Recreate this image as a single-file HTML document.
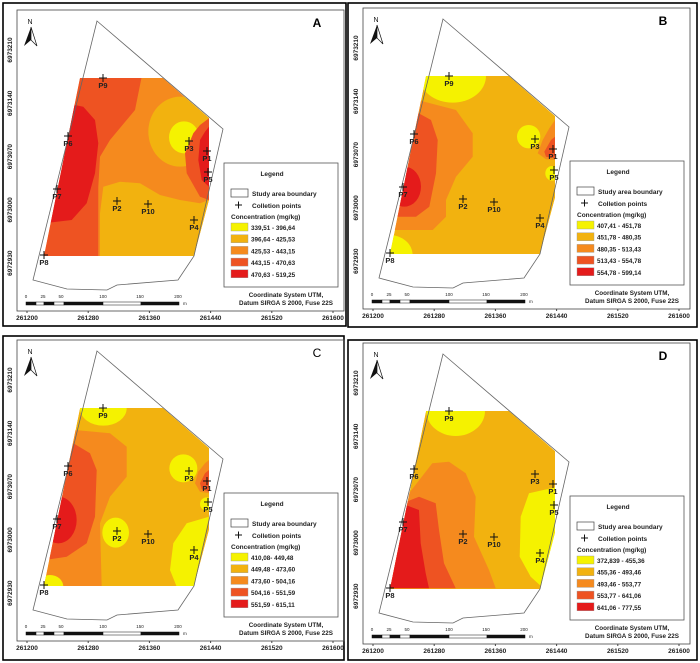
<!DOCTYPE html>
<html><head><meta charset="utf-8">
<style>
html,body{margin:0;padding:0;background:#fff;}
svg{display:block;font-family:"Liberation Sans",Arial,sans-serif;}
</style></head>
<body>
<svg id="fig" width="700" height="663" viewBox="0 0 700 663" xmlns="http://www.w3.org/2000/svg">
<defs>
<clipPath id="regclip"><polygon points="80,78 163,78 209,118 209,200 194,256 44,256"/></clipPath>
</defs>
</svg>
<script>
const NS="http://www.w3.org/2000/svg";
const svg=document.getElementById('fig');
function mk(tag,attrs,parent,text){const e=document.createElementNS(NS,tag);for(const k in attrs)e.setAttribute(k,attrs[k]);if(text!==undefined)e.textContent=text;(parent||svg).appendChild(e);return e;}

const colors=["#F5F200","#F2B20F","#F58A1E","#EE5322","#E41B1B"];
const panelLetters=["A","B","C","D"];
const legendA=["339,51 - 396,64","396,64 - 425,53","425,53 - 443,15","443,15 - 470,63","470,63 - 519,25"];
const legendB=["407,41 - 451,78","451,78 - 480,35","480,35 - 513,43","513,43 - 554,78","554,78 - 599,14"];
const legendC=["410,08- 449,48","449,48 - 473,60","473,60 - 504,16","504,16 - 551,59","551,59 - 615,11"];
const legendD=["372,839 - 455,36","455,36 - 493,46","493,46 - 553,77","553,77 - 641,06","641,06 - 777,55"];
const xTicks=["261200","261280","261360","261440","261520","261600"];
const yTicks=["6973210","6973140","6973070","6973000","6972930"];
const scaleLabels=["0","25","50","100","150","200"];
const pointNames=["P9","P6","P7","P8","P2","P10","P3","P1","P5","P4"];
const pointX=[103,68,57,44,117,148,189,207,208,194];
const pointY=[78,136,189,255,201,204,141,151,172,220];

const borders=[[3,3,343,323],[348,3,349,324],[3,336,341,324],[348,340,349,320]];

function z(pts,dx,dy){return pts.map(p=>(p[0]/3+dx).toFixed(1)+","+(p[1]/3+dy).toFixed(1));}
function poly(pts,dx,dy){return "M"+z(pts,dx,dy).join(" L")+"Z";}
function ell(cx,cy,rx,ry,dx,dy){cx=cx/3+dx;cy=cy/3+dy;rx/=3;ry/=3;return `M${cx-rx},${cy} a${rx},${ry} 0 1,0 ${2*rx},0 a${rx},${ry} 0 1,0 ${-2*rx},0Z`;}
const shapes=[
 [ [2,null],
   [3,poly([[230,230],[425,230],[405,330],[330,420],[300,470],[295,560],[295,770],[120,770],[200,235]],0,0)],
   [4,poly([[200,310],[250,320],[285,360],[295,430],[285,520],[260,610],[215,660],[130,670],[180,300]],0,0)],
   [1,poly([[310,560],[360,545],[420,550],[480,585],[540,600],[600,610],[627,600],[583,770],[300,770],[300,640]],0,0)],
   [1,ell(540,395,95,105,0,0)],
   [0,ell(552,412,45,48,0,0)],
   [3,poly([[580,400],[600,375],[627,355],[627,600],[600,590],[560,520],[555,460]],0,0)],
   [4,poly([[600,420],[615,395],[627,380],[627,560],[605,540],[595,480]],0,0)]
 ],
 [ [1,null],
   [0,ell(320,228,100,80,0,2)],
   [2,poly([[215,300],[330,330],[380,400],[380,470],[330,530],[300,600],[300,650],[260,690],[120,690]],0,2)],
   [3,poly([[200,330],[255,360],[275,420],[270,520],[250,620],[210,650],[140,650]],0,2)],
   [4,ell(175,560,50,60,0,2)],
   [0,ell(130,765,70,60,0,2)],
   [0,ell(548,410,35,35,0,2)],
   [2,poly([[575,460],[590,420],[610,385],[627,360],[627,480],[600,478]],0,2)],
   [3,poly([[595,455],[615,420],[627,410],[627,475],[600,470]],0,2)],
   [0,ell(618,520,20,22,0,2)]
 ],
 [ [1,null],
   [0,ell(310,235,70,52,0,0)],
   [2,poly([[225,300],[330,310],[380,350],[380,440],[330,500],[300,580],[305,770],[120,770]],0,0)],
   [3,poly([[220,340],[270,370],[290,420],[285,560],[260,640],[200,680],[135,690]],0,0)],
   [4,ell(175,570,55,70,0,0)],
   [0,ell(150,770,40,35,0,0)],
   [0,ell(347,608,40,45,0,0)],
   [0,ell(550,415,42,42,0,0)],
   [2,poly([[585,460],[595,425],[615,400],[627,390],[627,490],[600,485]],0,0)],
   [3,poly([[600,460],[615,430],[627,420],[627,485],[605,478]],0,0)],
   [0,ell(620,522,20,20,0,0)],
   [0,poly([[627,560],[560,580],[520,640],[510,720],[530,770],[583,770]],0,0)]
 ],
 [ [1,null],
   [0,ell(320,243,88,75,3,-3)],
   [2,poly([[180,490],[250,400],[300,395],[350,430],[380,500],[375,620],[420,720],[440,775],[120,775]],3,-3)],
   [3,poly([[120,560],[160,520],[210,500],[260,520],[270,600],[285,700],[320,775],[120,775]],3,-3)],
   [4,poly([[120,570],[170,525],[210,540],[215,640],[230,730],[240,775],[120,775]],3,-3)],
   [0,poly([[627,470],[540,490],[515,560],[512,680],[545,740],[583,775],[627,560]],3,-3)]
 ]
];
const legends=[legendA,legendB,legendC,legendD];

for(let p=0;p<4;p++){
  const b=borders[p];
  const br=mk('rect',{x:b[0],y:b[1],width:b[2],height:b[3],fill:'none',stroke:'#000','stroke-width':1.6});
  
  
  const tx=(p%2?346:0), ty=(p<2?(p==1?-2:0):(p==2?330:333));
  const g=mk('g',{transform:`translate(${tx},${ty})`});
  
  
  const fr=mk('rect',{x:17,y:10,width:327,height:301,fill:'none',stroke:'#444','stroke-width':0.8},g);
  
  
  for(let i=0;i<xTicks.length;i++){
    const x=27+i*61.2;
    mk('line',{x1:x,y1:311,x2:x,y2:313,stroke:'#444'},g);
    const t=mk('text',{x:x,y:320,'font-size':6.5,'font-weight':'bold','text-anchor':'middle',fill:'#222'},g,xTicks[i]);
    
    
  }
  for(let i=0;i<yTicks.length;i++){
    const y=50+i*53.3;
    const t=mk('text',{x:0,y:0,'font-size':6.5,'font-weight':'bold','text-anchor':'middle',fill:'#222',transform:`translate(12,${y}) rotate(-90)`},g,yTicks[i]);
    
    
  }
  const cg=mk('g',{'clip-path':'url(#regclip)'},g);
  
  
  for(const s of shapes[p]){
    let el;
    if(s[1]===null) el=mk('polygon',{points:"80,78 163,78 209,118 209,200 194,256 44,256",fill:colors[s[0]]},cg);
    else el=mk('path',{d:s[1],fill:colors[s[0]]},cg);
    
    
  }
  const bd=mk('polygon',{points:"97,21 223,129 194,256 178,280 117,285 107,290 67,289 33,280",fill:'none',stroke:'#666','stroke-width':0.8},g);
  
  
  for(let i=0;i<pointNames.length;i++){
    const x=pointX[i],y=pointY[i];
    const pg=mk('g',{},g);
    
    
    mk('path',{d:`M${x-4},${y}H${x+4}M${x},${y-4}V${y+4}`,stroke:'#111','stroke-width':1},pg);
    mk('text',{x:x,y:y+10,'font-size':7.5,'font-weight':'bold','text-anchor':'middle',fill:'#222'},pg,pointNames[i]);
  }
  const na=mk('g',{},g);
  
  
  mk('text',{x:30,y:24,'font-size':7,'text-anchor':'middle',fill:'#111'},na,'N');
  mk('path',{d:'M31,27 L24,46 L31,40 Z',fill:'#111'},na);
  mk('path',{d:'M31,27 L37,46 L31,40 Z',fill:'#fff',stroke:'#111','stroke-width':0.7},na);
  const pl=mk('text',{x:317,y:27,'font-size':12,'font-weight':p==2?'normal':'bold','text-anchor':'middle',fill:'#000'},g,panelLetters[p]);
  
  
  const lg=mk('g',{},g);
  
  
  mk('rect',{x:224,y:163,width:114,height:124,fill:'#fff',stroke:'#555','stroke-width':0.8},lg);
  mk('text',{x:272,y:176,'font-size':6.5,'font-weight':'bold','text-anchor':'middle',fill:'#222'},lg,'Legend');
  mk('rect',{x:231,y:189,width:17,height:8,fill:'#fff',stroke:'#444','stroke-width':0.7},lg);
  mk('text',{x:252,y:196,'font-size':6.5,'font-weight':'bold',fill:'#222'},lg,'Study area boundary');
  mk('path',{d:'M235,205H242M238.5,201.5V208.5',stroke:'#111','stroke-width':1},lg);
  mk('text',{x:252,y:208,'font-size':6.5,'font-weight':'bold',fill:'#222'},lg,'Colletion points');
  mk('text',{x:231,y:219,'font-size':6.5,'font-weight':'bold',fill:'#222'},lg,'Concentration (mg/kg)');
  const lab=legends[p];
  for(let i=0;i<lab.length;i++){
    const y=223+i*11.7;
    const sw=mk('rect',{x:231,y:y,width:17,height:8,fill:colors[i],stroke:'#999','stroke-width':0.4},lg);
    
    
    mk('text',{x:251,y:y+7,'font-size':6.3,'font-weight':'bold',fill:'#222'},lg,lab[i]);
  }
  const cn=mk('text',{x:286,y:297,'font-size':6.3,'font-weight':'bold','text-anchor':'middle',fill:'#222'},g,'Coordinate System UTM,');
  
  
  mk('text',{x:286,y:305,'font-size':6.3,'font-weight':'bold','text-anchor':'middle',fill:'#222'},g,'Datum SIRGA S 2000, Fuse 22S');
  const sb=mk('g',{},g);
  
  
  const segs=[[26,36,1],[36,44,0],[44,54,1],[54,64,0],[64,103,1],[103,141,0],[141,179,1]];
  for(const s of segs) mk('rect',{x:s[0],y:302,width:s[1]-s[0],height:3,fill:s[2]?'#111':'#fff',stroke:'#111','stroke-width':0.5},sb);
  const sx=[26,43,61,103,140,178];
  for(let i=0;i<scaleLabels.length;i++) mk('text',{x:sx[i],y:298,'font-size':4.5,'text-anchor':'middle',fill:'#222'},sb,scaleLabels[i]);
  mk('text',{x:183,y:305,'font-size':4.5,fill:'#222'},sb,'m');
}
</script>
</body></html>
